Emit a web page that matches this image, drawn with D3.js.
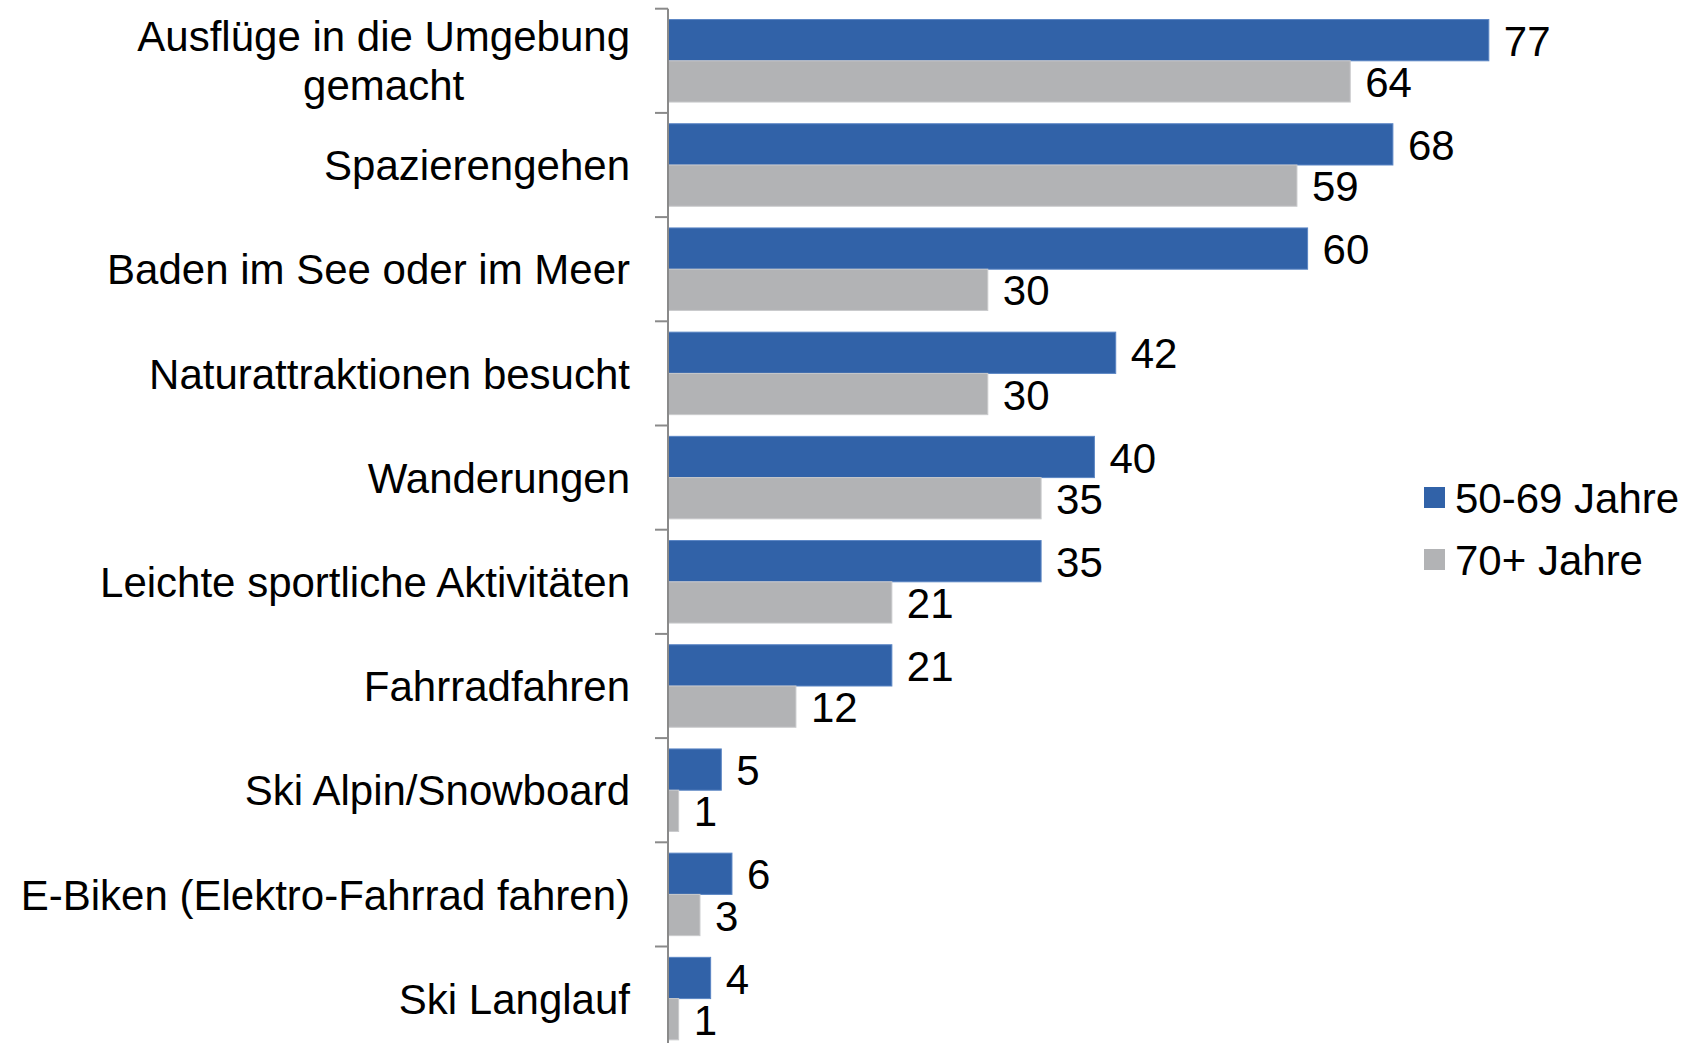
<!DOCTYPE html>
<html>
<head>
<meta charset="utf-8">
<script src="https://d3js.org/d3.v7.min.js"></script>
<style>
  html, body { margin: 0; padding: 0; background: #fff; }
  svg { display: block; font-family: "Liberation Sans", Arial, sans-serif; }
</style>
</head>
<body>
<div id="chart"></div>
<script>
const categories = [
    'Ausflüge in die Umgebung\ngemacht',
    'Spazierengehen',
    'Baden im See oder im Meer',
    'Naturattraktionen besucht',
    'Wanderungen',
    'Leichte sportliche Aktivitäten',
    'Fahrradfahren',
    'Ski Alpin/Snowboard',
    'E-Biken (Elektro-Fahrrad fahren)',
    'Ski Langlauf'
];
const seriesNames = ['50-69 Jahre', '70+ Jahre'];
const values5069 = [77, 68, 60, 42, 40, 35, 21, 5, 6, 4];
const values70 = [64, 59, 30, 30, 35, 21, 12, 1, 3, 1];
const colors = ['#3162a8', '#b2b3b5'];
const edgeColors = ['#5a85c4', '#c9cacc'];

const width = 1702, height = 1043;
const axisX = 668;
const plotTop = 8.7, band = 104.2;
const fontSize = 42;

const svg = d3.select('#chart')
    .append('svg')
    .attr('width', width)
    .attr('height', height)
    .attr('xmlns', 'http://www.w3.org/2000/svg');

svg.append('rect').attr('width', width).attr('height', height).attr('fill', '#fff');

// category bands (ticks sit on band edges)
const y = d3.scaleBand()
    .domain(categories)
    .range([plotTop, plotTop + band * categories.length])
    .padding(0);

const ySub = d3.scaleBand()
    .domain(seriesNames)
    .range([0, y.bandwidth()])
    .paddingInner(0)
    .paddingOuter(0.263);

const x = d3.scaleLinear()
    .domain([0, 80])
    .range([axisX, axisX + 80 * 10.66]);

const rows = categories.map((c, i) => ({
    cat: c,
    vals: [values5069[i], values70[i]]
}));

const g = svg.append('g');

// bars
const groups = g.selectAll('g.row')
    .data(rows)
    .join('g')
    .attr('class', 'row')
    .attr('transform', d => `translate(0,${y(d.cat)})`);

groups.selectAll('rect')
    .data(d => d.vals.map((v, k) => ({ v, k })))
    .join('rect')
    .attr('x', x(0))
    .attr('y', d => ySub(seriesNames[d.k]))
    .attr('width', d => x(d.v) - x(0))
    .attr('height', ySub.bandwidth())
    .attr('fill', d => colors[d.k])
    .attr('stroke', d => edgeColors[d.k])
    .attr('stroke-width', 1);

// value labels
groups.selectAll('text.val')
    .data(d => d.vals.map((v, k) => ({ v, k })))
    .join('text')
    .attr('class', 'val')
    .attr('x', d => x(d.v) + 15)
    .attr('y', d => ySub(seriesNames[d.k]) + ySub.bandwidth() / 2)
    .attr('dy', '0.37em')
    .attr('font-size', fontSize)
    .attr('fill', '#000')
    .text(d => d.v);

// axis line and ticks on band edges
const edges = categories.map(c => y(c)).concat([y.range()[1]]);
const axis = svg.append('g').attr('stroke', '#8a8a8a').attr('stroke-width', 2);
axis.append('line')
    .attr('x1', axisX).attr('x2', axisX)
    .attr('y1', plotTop).attr('y2', height + 20);
axis.selectAll('line.tick')
    .data(edges)
    .join('line')
    .attr('class', 'tick')
    .attr('x1', axisX - 13).attr('x2', axisX)
    .attr('y1', d => d).attr('y2', d => d);

// category labels (multi-line blocks centered, block right-aligned)
const labelRight = axisX - 38;
const lineGap = 49;
categories.forEach(c => {
    const lines = c.split('\n');
    const cy = y(c) + y.bandwidth() / 2;
    const t = svg.append('text')
        .attr('font-size', fontSize)
        .attr('fill', '#000');
    if (lines.length === 1) {
        t.attr('x', labelRight).attr('y', cy).attr('dy', '0.36em')
            .attr('text-anchor', 'end').text(c);
    } else {
        const tmp = svg.append('text').attr('font-size', fontSize);
        const widths = lines.map(l => { tmp.text(l); return tmp.node().getComputedTextLength(); });
        tmp.remove();
        const cx = labelRight - d3.max(widths) / 2;
        t.attr('text-anchor', 'middle');
        lines.forEach((l, i) => {
            t.append('tspan')
                .attr('x', cx)
                .attr('y', cy + (i - (lines.length - 1) / 2) * lineGap)
                .attr('dy', '0.36em')
                .text(l);
        });
    }
});

// legend
const legend = svg.append('g').attr('transform', 'translate(1424,487)');
const li = legend.selectAll('g')
    .data(seriesNames)
    .join('g')
    .attr('transform', (d, i) => `translate(0,${i * 62})`);
li.append('rect')
    .attr('width', 21).attr('height', 21)
    .attr('fill', (d, i) => colors[i]);
li.append('text')
    .attr('x', 31).attr('y', 10.5).attr('dy', '0.36em')
    .attr('font-size', fontSize)
    .attr('fill', '#000')
    .text(d => d);
</script>
</body>
</html>
